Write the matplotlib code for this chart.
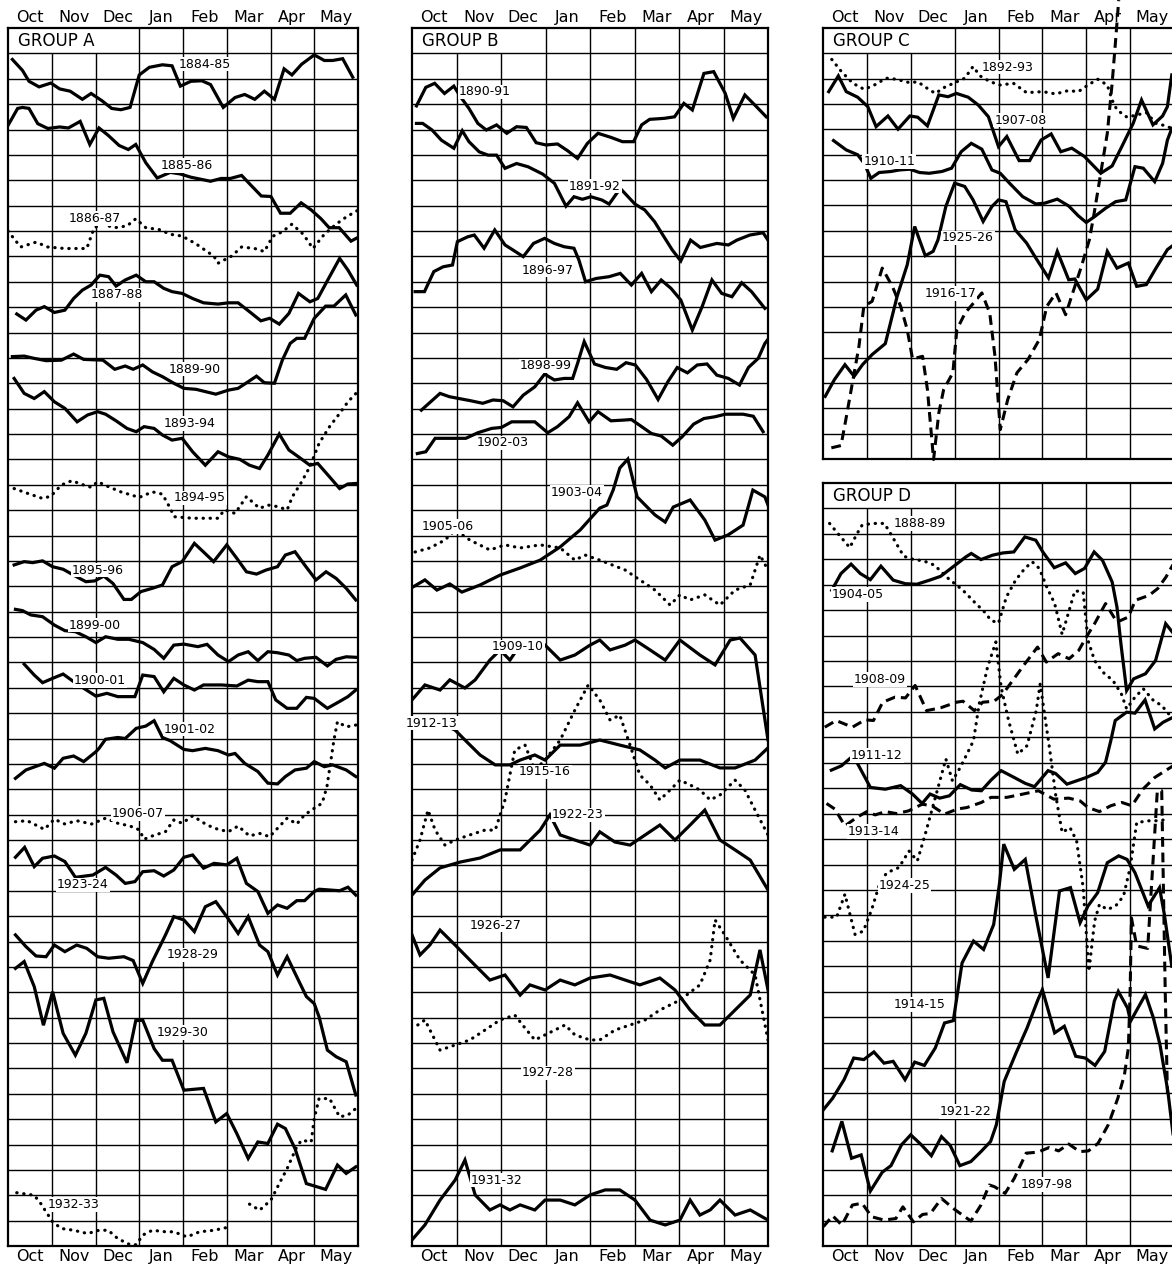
import numpy as np
import matplotlib
matplotlib.use('Agg')
import matplotlib.pyplot as plt

months = ['Oct', 'Nov', 'Dec', 'Jan', 'Feb', 'Mar', 'Apr', 'May']

# ---- values: x = months since 1 Oct, y = grid rows counted from panel top ----
A_1884_85 = [(0.10,1.24),(0.33,1.67),(0.48,2.10),(0.71,2.32),(0.98,2.17),(1.18,2.40),(1.42,2.49),(1.70,2.81),(1.90,2.58),(2.15,2.87),(2.37,3.17),(2.58,3.22),(2.79,3.13),(3.00,1.85),(3.23,1.55),(3.53,1.45),(3.75,1.49),(3.94,2.29),(4.18,2.10),(4.43,2.08),(4.63,2.23),(4.92,3.13),(5.19,2.74),(5.41,2.62),(5.64,2.81),(5.86,2.49),(6.09,2.81),(6.31,1.61),(6.49,1.85),(6.71,1.43),(7.00,1.06),(7.23,1.28),(7.42,1.28),(7.65,1.21),(7.88,1.94)]
A_1885_86 = [(0.00,3.84),(0.22,3.17),(0.33,3.13),(0.48,3.17),(0.68,3.77),(0.91,3.96),(1.18,3.90),(1.38,3.94),(1.65,3.68),(1.87,4.59),(2.08,3.94),(2.29,4.23),(2.54,4.63),(2.75,4.79),(2.92,4.59),(3.15,5.31),(3.41,5.91),(3.71,5.69),(3.93,5.75),(4.18,5.88),(4.63,6.04),(4.87,5.93),(5.08,5.93),(5.34,5.81),(5.56,6.21),(5.79,6.62),(6.01,6.64),(6.23,7.30),(6.45,7.30),(6.70,6.89),(6.93,7.17),(7.15,7.51),(7.34,7.87),(7.57,7.87),(7.84,8.40),(8.00,8.25)]
A_1886_87 = [(0.00,8.00),(0.14,8.31),(0.29,8.63),(0.64,8.44),(0.91,8.63),(1.30,8.69),(1.80,8.69),(1.97,7.87),(2.15,7.73),(2.44,7.87),(2.72,7.80),(2.92,7.52),(3.15,7.87),(3.45,7.94),(3.71,8.13),(3.98,8.20),(4.30,8.51),(4.71,9.00),(4.80,9.27),(5.11,8.99),(5.34,8.63),(5.64,8.69),(5.86,8.81),(6.05,8.21),(6.27,8.03),(6.49,7.73),(6.75,8.13),(6.97,8.69),(7.23,8.13),(7.50,7.73),(7.73,7.45),(8.00,7.18)]
A_1887_88 = [(0.20,11.27),(0.41,11.51),(0.64,11.12),(0.83,10.98),(1.06,11.21),(1.30,11.12),(1.50,10.66),(1.70,10.33),(1.90,10.13),(2.10,9.74),(2.30,9.80),(2.47,10.17),(2.68,9.93),(2.93,9.74),(3.15,10.00),(3.34,10.00),(3.56,10.26),(3.75,10.39),(3.98,10.46),(4.22,10.66),(4.47,10.83),(4.80,10.88),(5.04,10.83),(5.26,10.83),(5.52,11.18),(5.78,11.54),(5.98,11.44),(6.20,11.67),(6.42,11.25),(6.64,10.46),(6.90,10.79),(7.08,10.66),(7.35,9.80),(7.58,9.08),(7.77,9.54),(7.97,10.13)]
A_1889_90 = [(0.10,12.95),(0.37,12.93),(0.60,13.02),(0.87,13.11),(1.22,13.09),(1.50,12.85),(1.73,13.06),(2.17,13.09),(2.44,13.45),(2.68,13.32),(2.86,13.45),(3.08,13.28),(3.30,13.55),(3.53,13.74),(3.79,14.00),(4.02,14.20),(4.30,14.24),(4.75,14.43),(5.04,14.27),(5.26,14.20),(5.49,13.94),(5.68,13.72),(5.86,13.98),(6.09,14.00),(6.27,13.09),(6.45,12.43),(6.60,12.23),(6.78,12.23),(7.00,11.44),(7.26,10.96),(7.45,10.96),(7.72,10.52),(7.95,11.31)]
A_1893_94 = [(0.14,13.81),(0.37,14.40),(0.60,14.60),(0.83,14.33),(1.06,14.73),(1.30,14.99),(1.58,15.52),(1.82,15.25),(2.05,15.12),(2.23,15.22),(2.47,15.48),(2.72,15.78),(2.93,15.91),(3.11,15.71),(3.34,15.78),(3.53,16.04),(3.75,16.24),(3.98,16.17),(4.22,16.70),(4.51,17.23),(4.80,16.70),(5.04,16.90),(5.30,17.00),(5.52,17.23),(5.75,17.36),(5.94,16.83),(6.20,16.00),(6.42,16.63),(6.64,16.90),(6.90,17.23),(7.08,17.16),(7.35,17.69),(7.58,18.15),(7.77,17.97),(7.95,17.95)]
A_1894_95 = [(0.14,18.15),(0.45,18.34),(0.79,18.54),(0.98,18.45),(1.22,18.01),(1.46,17.84),(1.73,18.01),(1.90,18.10),(2.05,17.88),(2.30,18.08),(2.58,18.28),(3.00,18.50),(3.30,18.28),(3.53,18.37),(3.70,18.90),(3.80,19.26),(4.22,19.32),(4.80,19.32),(4.95,18.99),(5.19,19.13),(5.45,18.47),(5.75,18.93),(5.94,18.80),(6.16,18.86),(6.38,18.99),(6.50,18.47),(6.69,17.95),(6.90,17.29),(7.11,16.37),(7.35,15.71),(7.58,15.19),(7.77,14.73),(7.97,14.37)]
A_1895_96 = [(0.14,21.16),(0.37,21.03),(0.56,21.07),(0.79,21.00),(1.02,21.23),(1.26,21.33),(1.54,21.60),(1.78,21.82),(1.98,21.79),(2.19,21.60),(2.40,21.89),(2.65,22.52),(2.82,22.52),(3.04,22.21),(3.30,22.08),(3.53,21.95),(3.75,21.23),(3.98,21.03),(4.26,20.31),(4.50,20.70),(4.70,21.03),(5.00,20.37),(5.23,20.90),(5.45,21.43),(5.68,21.52),(5.90,21.36),(6.16,21.23),(6.34,20.77),(6.56,20.64),(6.78,21.16),(7.04,21.75),(7.27,21.43),(7.50,21.69),(7.73,22.08),(7.95,22.54)]
A_1899_00 = [(0.17,22.91),(0.33,22.96),(0.52,23.13),(0.79,23.20),(1.06,23.53),(1.30,23.75),(1.54,23.79),(1.78,23.99),(2.01,24.22),(2.23,23.99),(2.51,24.09),(2.76,24.09),(3.08,24.22),(3.34,24.49),(3.56,24.84),(3.79,24.32),(4.02,24.28),(4.34,24.38),(4.55,24.29),(4.80,24.71),(5.04,24.97),(5.26,24.71),(5.49,24.58),(5.71,24.93),(5.94,24.58),(6.16,24.62),(6.42,24.71),(6.60,24.93),(6.78,24.84),(7.04,24.80),(7.30,25.14),(7.50,24.88),(7.73,24.78),(7.95,24.80)]
A_1900_01 = [(0.37,25.07),(0.60,25.50),(0.79,25.80),(1.02,25.63),(1.26,25.46),(1.50,25.76),(1.73,26.02),(2.01,26.33),(2.26,26.22),(2.51,26.35),(2.90,26.35),(3.08,25.50),(3.34,25.56),(3.56,26.16),(3.79,25.63),(4.02,25.89),(4.26,26.09),(4.47,25.89),(4.88,25.89),(5.23,25.93),(5.49,25.70),(5.71,25.76),(5.94,25.76),(6.12,26.48),(6.38,26.81),(6.60,26.81),(6.82,26.38),(7.00,26.42),(7.30,26.81),(7.57,26.55),(7.77,26.35),(7.95,26.09)]
A_1901_02 = [(0.17,29.57),(0.41,29.24),(0.83,28.98),(1.06,29.17),(1.26,28.78),(1.50,28.69),(1.73,28.91),(2.01,28.52),(2.08,28.39),(2.23,28.03),(2.51,27.96),(2.68,28.00),(2.93,27.60),(3.15,27.51),(3.34,27.30),(3.53,27.96),(3.71,28.09),(4.02,28.43),(4.22,28.48),(4.51,28.39),(4.80,28.48),(5.04,28.65),(5.19,28.59),(5.41,28.98),(5.71,29.30),(5.94,29.76),(6.16,29.79),(6.34,29.50),(6.56,29.24),(6.82,29.17),(7.00,28.91),(7.23,29.11),(7.42,29.04),(7.73,29.24),(7.95,29.50)]
A_1906_07 = [(0.17,31.28),(0.44,31.24),(0.83,31.58),(1.06,31.18),(1.30,31.37),(1.57,31.24),(1.91,31.37),(2.23,31.14),(2.51,31.34),(2.79,31.45),(3.00,31.60),(3.11,31.97),(3.30,31.84),(3.60,31.67),(3.79,31.21),(3.98,31.34),(4.22,31.05),(4.55,31.41),(4.80,31.58),(5.04,31.67),(5.26,31.45),(5.52,31.84),(5.75,31.74),(5.98,31.87),(6.16,31.54),(6.38,31.14),(6.60,31.37),(6.78,31.01),(7.00,30.75),(7.18,30.55),(7.29,29.90),(7.37,28.98),(7.45,28.06),(7.53,27.34),(7.73,27.54),(7.95,27.47)]
A_1923_24 = [(0.17,32.68),(0.38,32.29),(0.60,33.05),(0.79,32.72),(1.06,32.63),(1.30,32.85),(1.54,33.47),(1.94,33.38),(2.23,33.08),(2.47,33.38),(2.68,33.71),(2.90,33.64),(3.08,33.25),(3.34,33.21),(3.56,33.42),(3.79,33.18),(4.02,32.68),(4.22,32.59),(4.47,33.11),(4.71,32.92),(5.00,32.98),(5.23,32.72),(5.45,33.71),(5.71,34.03),(5.94,34.89),(6.16,34.56),(6.38,34.69),(6.60,34.39),(6.78,34.39),(7.00,34.03),(7.11,33.94),(7.35,33.97),(7.58,34.00),(7.77,33.86),(7.95,34.17)]
A_1928_29 = [(0.17,35.74),(0.41,36.20),(0.64,36.57),(0.87,36.60),(1.06,36.14),(1.30,36.40),(1.57,36.14),(1.80,36.27),(2.05,36.60),(2.30,36.66),(2.65,36.60),(2.86,36.75),(3.08,37.65),(3.30,36.79),(3.60,35.74),(3.79,35.02),(4.02,35.15),(4.26,35.61),(4.51,34.63),(4.75,34.43),(5.00,35.02),(5.26,35.68),(5.49,35.02),(5.75,36.14),(5.94,36.40),(6.16,37.32),(6.38,36.60),(6.60,37.39),(6.82,38.17),(7.00,38.45),(7.11,38.97),(7.30,40.28),(7.50,40.54),(7.73,40.74),(7.95,42.05)]
A_1929_30 = [(0.17,37.06),(0.37,36.79),(0.60,37.78),(0.81,39.30),(1.02,37.98),(1.26,39.62),(1.54,40.48),(1.78,39.62),(2.01,38.30),(2.19,38.24),(2.40,39.56),(2.72,40.78),(2.92,39.12),(3.08,39.10),(3.34,40.22),(3.53,40.68),(3.75,40.68),(4.02,41.86),(4.47,41.79),(4.75,43.11),(5.00,42.78),(5.23,43.57),(5.49,44.55),(5.71,43.90),(5.94,43.96),(6.16,43.20),(6.34,43.37),(6.56,44.16),(6.82,45.54),(7.26,45.77),(7.53,44.81),(7.73,45.14),(7.95,44.88)]
A_1932_33 = [(0.20,45.90),(0.60,46.00),(0.75,46.33),(1.02,47.05),(1.22,47.31),(1.50,47.38),(1.82,47.51),(2.08,47.38),(2.29,47.38),(2.51,47.71),(2.79,47.95),(2.93,47.95),(3.08,47.57),(3.30,47.38),(3.60,47.44),(3.79,47.44),(4.09,47.64),(4.38,47.44),(4.71,47.38),(5.06,47.25),None,(5.52,46.35),(5.75,46.59),(6.01,46.19),(6.20,45.54),(6.38,44.95),(6.60,44.09),(6.71,43.83),(6.93,43.90),(7.00,42.97),(7.11,42.19),(7.35,42.19),(7.58,42.91),(7.77,42.84),(8.00,42.51)]

B_1890_91 = [(0.10,3.07),(0.31,2.34),(0.51,2.18),(0.73,2.58),(0.94,2.29),(1.09,2.71),(1.28,3.17),(1.48,3.76),(1.67,4.02),(1.90,3.82),(2.13,4.15),(2.35,3.89),(2.57,3.92),(2.79,4.52),(3.01,4.61),(3.27,4.57),(3.50,4.84),(3.72,5.14),(3.94,4.55),(4.18,4.15),(4.47,4.31),(4.73,4.48),(4.98,4.48),(5.16,3.82),(5.34,3.60),(5.67,3.56),(5.90,3.50),(6.11,2.97),(6.30,3.23),(6.56,1.79),(6.78,1.72),(7.04,2.58),(7.22,3.56),(7.48,2.64),(7.74,3.10),(7.96,3.50)]
B_1891_92 = [(0.10,3.76),(0.24,3.76),(0.45,4.02),(0.66,4.42),(0.94,4.74),(1.13,4.05),(1.28,4.48),(1.51,4.88),(1.71,5.01),(1.90,5.01),(2.09,5.53),(2.35,5.34),(2.61,5.47),(2.94,5.76),(3.20,6.12),(3.46,7.02),(3.64,6.65),(3.83,6.75),(4.02,6.65),(4.27,6.78),(4.43,6.94),(4.68,6.32),(5.01,6.94),(5.23,7.17),(5.45,7.63),(5.67,8.25),(5.85,8.75),(6.04,9.18),(6.26,8.36),(6.48,8.65),(6.85,8.49),(7.11,8.55),(7.30,8.36),(7.59,8.16),(7.89,8.07),(8.00,8.36)]
B_1896_97 = [(0.07,10.39),(0.28,10.39),(0.49,9.60),(0.70,9.41),(0.91,9.34),(1.02,8.42),(1.25,8.23),(1.40,8.16),(1.62,8.68),(1.86,7.96),(2.09,8.55),(2.27,8.75),(2.50,9.01),(2.73,8.49),(2.98,8.29),(3.20,8.49),(3.42,8.62),(3.64,8.68),(3.75,9.14),(3.90,10.00),(4.14,9.87),(4.43,9.80),(4.68,9.67),(4.93,10.13),(5.16,9.67),(5.38,10.39),(5.60,9.93),(5.82,10.26),(6.04,10.72),(6.30,11.90),(6.52,10.98),(6.74,9.93),(6.96,10.46),(7.19,10.59),(7.41,10.04),(7.63,10.39),(7.93,11.05)]
B_1898_99 = [(0.21,15.06),(0.42,14.73),(0.63,14.40),(0.84,14.53),(1.05,14.60),(1.32,14.69),(1.59,14.79),(1.82,14.66),(2.05,14.69),(2.27,14.93),(2.50,14.47),(2.76,14.14),(2.98,13.64),(3.20,13.87),(3.42,13.81),(3.61,13.81),(3.72,13.22),(3.87,12.36),(4.10,13.24),(4.35,13.38),(4.60,13.45),(4.81,13.19),(5.02,13.28),(5.27,13.85),(5.53,14.64),(5.75,13.94),(5.96,13.38),(6.19,13.59),(6.41,13.28),(6.63,13.24),(6.85,13.68),(7.11,13.81),(7.36,14.07),(7.56,13.38),(7.78,13.02),(7.93,12.43),(8.00,12.27)]
B_1902_03 = [(0.12,16.77),(0.31,16.70),(0.52,16.17),(0.80,16.17),(1.21,16.17),(1.48,15.95),(1.79,15.78),(2.01,15.74),(2.24,15.52),(2.53,15.52),(2.76,15.52),(3.05,15.95),(3.27,15.71),(3.53,15.32),(3.72,14.77),(3.98,15.52),(4.18,15.12),(4.47,15.48),(4.77,15.45),(4.93,15.43),(5.16,15.71),(5.38,15.98),(5.60,16.08),(5.86,16.44),(6.07,16.11),(6.33,15.61),(6.56,15.39),(6.81,15.32),(7.04,15.22),(7.44,15.22),(7.67,15.30),(7.89,15.91)]
B_1903_04 = [(0.02,22.03),(0.29,21.75),(0.56,22.15),(0.85,21.91),(1.12,22.23),(1.53,21.95),(1.98,21.56),(2.43,21.28),(2.88,20.97),(3.33,20.45),(3.78,19.78),(4.22,18.92),(4.38,18.80),(4.52,18.21),(4.67,17.34),(4.85,16.99),(5.06,18.48),(5.24,18.80),(5.46,19.19),(5.69,19.47),(5.87,18.88),(6.25,18.60),(6.58,19.39),(6.81,20.18),(7.10,19.98),(7.44,19.59),(7.66,18.21),(7.93,18.48),(8.00,18.80)]
B_1905_06 = [(0.07,20.65),(0.40,20.49),(0.74,20.18),(0.97,19.78),(1.30,20.18),(1.75,20.57),(2.09,20.37),(2.43,20.49),(2.88,20.37),(3.33,20.49),(3.66,20.97),(3.89,20.77),(4.22,20.97),(4.79,21.36),(5.12,21.75),(5.46,22.15),(5.80,22.74),(6.02,22.34),(6.25,22.54),(6.58,22.34),(6.92,22.74),(7.26,22.15),(7.60,21.95),(7.82,20.77),(8.00,21.36)]
B_1909_10 = [(0.00,26.48),(0.29,25.89),(0.63,26.09),(0.85,25.69),(1.19,26.01),(1.42,25.69),(1.75,24.91),(1.98,24.51),(2.20,24.91),(2.43,24.32),(2.76,24.51),(2.99,24.32),(3.33,24.91),(3.66,24.71),(4.00,24.32),(4.22,24.12),(4.45,24.51),(4.79,24.32),(5.01,24.12),(5.35,24.51),(5.69,24.91),(6.02,24.12),(6.47,24.71),(6.81,25.10),(7.15,24.12),(7.37,24.04),(7.71,24.71),(8.00,28.06)]
B_1912_13 = [(0.00,27.59),(0.29,27.47),(0.63,27.39),(0.97,27.67),(1.19,28.06),(1.53,28.65),(1.87,29.04),(2.20,29.04),(2.43,28.85),(2.76,28.65),(2.99,28.85),(3.33,28.26),(3.78,28.26),(4.22,28.06),(4.67,28.26),(5.12,28.45),(5.46,28.85),(5.69,29.16),(6.02,28.85),(6.47,28.85),(6.92,29.16),(7.26,29.16),(7.71,28.85),(8.00,28.37)]
B_1915_16 = [(0.00,32.79),(0.18,32.00),(0.36,30.82),(0.52,31.61),(0.74,32.20),(0.97,32.00),(1.30,31.80),(1.64,31.61),(1.87,31.61),(2.09,30.42),(2.31,28.45),(2.54,28.26),(2.76,29.24),(2.99,28.85),(3.33,28.06),(3.66,26.88),(3.96,25.89),(4.22,26.48),(4.45,27.27),(4.67,27.08),(4.90,28.26),(5.12,29.44),(5.35,29.83),(5.57,30.42),(5.80,30.03),(6.02,29.64),(6.25,29.83),(6.47,30.03),(6.70,30.42),(6.92,30.23),(7.26,29.64),(7.48,30.03),(7.71,30.82),(8.00,31.80)]
B_1922_23 = [(0.00,34.17),(0.29,33.58),(0.63,33.10),(1.08,32.87),(1.53,32.71),(1.98,32.39),(2.43,32.39),(2.88,31.61),(3.10,31.01),(3.33,31.80),(3.66,32.00),(4.00,32.20),(4.22,31.68),(4.56,32.08),(4.90,32.20),(5.24,31.80),(5.57,31.41),(5.91,32.00),(6.25,31.41),(6.58,30.82),(6.92,32.00),(7.26,32.39),(7.60,32.79),(8.00,33.97)]
B_1926_27 = [(0.00,35.74),(0.18,36.53),(0.40,36.14),(0.63,35.55),(0.97,36.14),(1.30,36.73),(1.75,37.52),(2.09,37.32),(2.43,38.11),(2.65,37.71),(2.99,37.91),(3.33,37.52),(3.66,37.71),(4.00,37.44),(4.45,37.32),(4.79,37.52),(5.12,37.71),(5.57,37.44),(5.91,37.91),(6.25,38.70),(6.58,39.29),(6.92,39.29),(7.26,38.70),(7.60,38.11),(7.82,36.33),(8.00,37.91)]
B_1927_28 = [(0.13,39.29),(0.29,39.09),(0.63,40.28),(0.97,40.08),(1.30,39.88),(1.64,39.49),(1.98,39.09),(2.31,38.90),(2.54,39.41),(2.76,39.88),(2.99,39.68),(3.21,39.49),(3.44,39.29),(3.66,39.68),(4.00,39.88),(4.22,39.88),(4.56,39.49),(4.90,39.29),(5.24,39.09),(5.57,38.70),(6.02,38.31),(6.47,37.71),(6.70,36.73),(6.81,35.15),(7.03,35.74),(7.37,36.73),(7.71,37.32),(8.00,39.88)]
B_1931_32 = [(0.00,47.76),(0.29,47.17),(0.63,46.19),(0.97,45.40),(1.19,44.61),(1.42,45.99),(1.75,46.58),(1.98,46.38),(2.20,46.58),(2.43,46.38),(2.76,46.58),(2.99,46.19),(3.33,46.19),(3.66,46.38),(4.00,45.99),(4.34,45.79),(4.67,45.79),(5.01,46.19),(5.35,46.98),(5.69,47.17),(6.02,46.98),(6.25,46.19),(6.47,46.78),(6.70,46.58),(6.92,46.19),(7.26,46.78),(7.60,46.58),(8.00,46.98)]

C_1892_93 = [(0.20,1.24),(0.42,1.72),(0.68,2.18),(0.94,2.42),(1.17,2.25),(1.44,1.98),(1.67,2.02),(1.98,2.16),(2.16,2.12),(2.34,2.34),(2.56,2.58),(2.77,2.34),(3.00,2.16),(3.23,1.98),(3.42,1.52),(3.58,1.89),(3.81,2.12),(4.04,2.25),(4.34,2.18),(4.64,2.55),(5.01,2.51),(5.30,2.60),(5.59,2.47),(5.82,2.51),(6.04,2.25),(6.26,2.02),(6.48,2.25),(6.59,2.84),(6.70,3.23),(6.93,3.52),(7.15,3.43),(7.37,3.34),(7.59,3.76),(7.81,3.86),(7.95,3.96)]
C_1907_08 = [(0.13,2.51),(0.35,1.89),(0.53,2.51),(0.79,2.73),(1.02,3.10),(1.21,3.89),(1.48,3.47),(1.71,3.99),(1.98,3.47),(2.16,3.52),(2.38,3.86),(2.64,2.64),(2.85,2.71),(3.04,2.58),(3.31,2.73),(3.54,3.04),(3.77,3.50),(4.00,4.68),(4.19,4.28),(4.47,5.23),(4.71,5.23),(4.97,4.42),(5.20,4.18),(5.42,4.88),(5.67,4.74),(5.96,5.07),(6.33,5.73),(6.59,5.44),(6.81,4.68),(7.07,3.76),(7.26,2.84),(7.52,3.82),(7.74,3.47),(7.85,3.10),(7.95,1.85)]
C_1910_11 = [(0.24,4.44),(0.53,4.81),(0.79,5.00),(0.94,5.34),(1.09,5.93),(1.28,5.70),(1.55,5.66),(1.74,5.60),(1.98,5.57),(2.20,5.70),(2.42,5.73),(2.71,5.66),(2.93,5.53),(3.15,4.88),(3.38,4.55),(3.62,4.78),(3.85,5.60),(4.04,5.73),(4.25,6.12),(4.55,6.65),(4.85,6.94),(5.05,6.91),(5.34,6.75),(5.60,7.02),(5.82,7.41),(6.00,7.67),(6.19,7.44),(6.44,7.11),(6.67,6.85),(6.90,6.78),(7.11,5.47),(7.30,5.53),(7.56,6.06),(7.74,5.34),(7.85,4.42),(7.95,3.96)]
C_1925_26 = [(0.05,14.53),(0.26,13.87),(0.50,13.28),(0.71,13.74),(0.90,13.28),(1.12,12.88),(1.42,12.45),(1.69,10.58),(1.92,9.34),(2.09,7.83),(2.33,8.98),(2.51,8.81),(2.62,8.36),(2.80,7.04),(3.00,6.12),(3.23,6.25),(3.42,6.78),(3.65,7.63),(3.85,7.04),(4.00,6.78),(4.17,6.85),(4.38,7.96),(4.64,8.48),(4.85,9.07),(5.14,9.86),(5.34,8.81),(5.60,9.93),(5.74,9.90),(6.00,10.72),(6.26,10.30),(6.48,8.81),(6.70,9.47),(6.96,9.27),(7.15,10.19),(7.37,10.12),(7.59,9.47),(7.85,8.74),(7.95,8.61)]
C_1916_17 = [(0.19,16.56),(0.41,16.47),(0.52,15.45),(0.67,14.00),(0.82,12.55),(0.93,10.98),(1.12,10.78),(1.35,9.47),(1.58,10.19),(1.77,10.98),(1.92,11.90),(2.04,13.05),(2.27,12.95),(2.38,14.26),(2.52,17.02),(2.64,15.18),(2.75,14.26),(2.96,13.60),(3.05,11.90),(3.24,11.24),(3.43,10.85),(3.62,10.45),(3.80,11.24),(3.92,12.95),(4.04,15.84),(4.21,14.66),(4.42,13.60),(4.67,13.08),(4.93,12.29),(5.10,10.98),(5.31,10.45),(5.53,11.31),(5.74,10.19),(5.89,9.40),(6.07,8.36),(6.18,7.31),(6.33,5.73),(6.48,4.15),(6.59,2.18),(6.67,0.47),(6.74,-1.10)]

D_1888_89 = [(0.15,1.59),(0.37,2.05),(0.61,2.54),(0.78,1.98),(0.89,1.66),(1.12,1.59),(1.40,1.59),(1.56,2.05),(1.84,2.88),(2.07,3.01),(2.29,3.06),(2.54,3.23),(2.86,3.76),(3.19,4.22),(3.45,4.68),(3.68,5.07),(3.83,5.40),(4.00,5.51),(4.18,4.48),(4.39,3.82),(4.60,3.36),(4.77,3.10),(4.93,3.36),(5.10,4.09),(5.28,4.74),(5.45,5.95),(5.60,5.07),(5.74,4.24),(5.93,4.28),(6.04,6.19),(6.19,6.98),(6.38,7.44),(6.61,7.77),(6.80,8.29),(6.92,8.88),(7.11,8.42),(7.30,8.09),(7.53,8.55),(7.72,8.75),(7.88,9.08),(8.00,9.30)]
D_1904_05 = [(0.20,4.22),(0.41,3.56),(0.64,3.19),(0.85,3.56),(1.08,3.80),(1.32,3.27),(1.60,3.82),(1.88,3.96),(2.14,3.98),(2.43,3.82),(2.68,3.67),(2.96,3.30),(3.26,2.90),(3.38,2.77),(3.60,3.01),(3.86,2.84),(4.10,2.75),(4.35,2.71),(4.60,2.12),(4.85,2.25),(5.01,2.71),(5.27,3.33),(5.53,3.14),(5.75,3.56),(5.96,3.36),(6.18,2.71),(6.37,3.04),(6.59,3.89),(6.70,4.88),(6.79,6.32),(6.92,8.16),(7.08,7.70),(7.35,7.50),(7.58,6.98),(7.81,5.53),(7.98,5.90)]
D_1908_09 = [(0.04,9.60),(0.30,9.34),(0.67,9.60),(0.96,9.31),(1.15,9.34),(1.36,8.62),(1.64,8.42),(1.88,8.45),(2.10,7.96),(2.36,8.95),(2.68,8.84),(3.04,8.62),(3.19,8.58),(3.45,8.95),(3.64,8.62),(3.90,8.58),(4.09,8.32),(4.35,7.70),(4.60,7.11),(4.89,6.45),(5.09,7.04),(5.36,6.71),(5.61,6.91),(5.83,6.58),(6.00,6.06),(6.19,5.53),(6.44,4.74),(6.70,5.47),(6.96,5.27),(7.12,4.61),(7.43,4.42),(7.63,4.15),(7.82,3.69),(7.98,3.20)]
D_1911_12 = [(0.19,11.29),(0.42,11.12),(0.69,10.72),(1.08,11.97),(1.42,12.04),(1.77,11.90),(2.04,12.23),(2.26,12.60),(2.44,12.23),(2.66,12.39),(2.88,12.30),(3.13,11.86),(3.39,12.07),(3.61,12.10),(3.83,11.68),(4.06,11.31),(4.36,11.58),(4.61,11.81),(4.82,11.94),(5.13,11.31),(5.30,11.42),(5.56,11.84),(6.00,11.58),(6.26,11.38),(6.44,10.98),(6.56,10.13),(6.66,9.34),(6.92,9.01),(7.11,9.05),(7.34,8.53),(7.56,9.67),(7.75,9.41),(7.98,9.21)]
D_1913_14 = [(0.08,12.60),(0.27,12.82),(0.50,13.48),(0.77,13.15),(1.00,12.92),(1.19,13.05),(1.42,12.92),(1.68,13.00),(1.95,12.89),(2.26,12.63),(2.48,12.69),(2.77,13.02),(3.06,12.82),(3.28,12.76),(3.61,12.56),(3.83,12.36),(4.19,12.36),(4.56,12.23),(4.91,12.10),(5.26,12.43),(5.60,12.39),(5.86,12.50),(6.04,12.76),(6.30,12.92),(6.56,12.69),(6.81,12.56),(7.04,12.69),(7.29,12.04),(7.56,11.58),(7.86,11.25),(8.00,11.10)]
D_1924_25 = [(0.04,17.07),(0.31,17.07),(0.50,16.17),(0.73,17.75),(0.92,17.62),(1.11,16.77),(1.31,15.65),(1.46,15.32),(1.73,15.12),(1.96,14.47),(2.15,14.86),(2.33,13.81),(2.55,12.43),(2.80,10.85),(2.95,11.71),(3.13,11.18),(3.28,10.66),(3.43,10.13),(3.56,8.69),(3.75,7.24),(3.94,6.25),(4.06,8.03),(4.23,9.34),(4.44,10.66),(4.65,10.33),(4.86,8.95),(4.95,7.90),(5.17,10.52),(5.30,12.23),(5.45,13.74),(5.63,13.55),(5.78,14.07),(5.93,15.91),(6.06,19.20),(6.19,17.23),(6.30,16.57),(6.48,16.77),(6.67,16.63),(6.85,16.24),(7.00,15.12),(7.15,13.35),(7.44,13.28),(7.70,13.28),(7.81,13.22)]
D_1914_15 = [(0.01,24.64),(0.22,24.19),(0.48,23.46),(0.70,22.61),(0.93,22.67),(1.16,22.37),(1.39,22.81),(1.60,22.74),(1.87,23.46),(2.09,22.77),(2.31,22.90),(2.56,22.21),(2.77,21.23),(2.97,21.14),(3.17,18.87),(3.43,18.01),(3.66,18.34),(3.89,17.36),(4.02,15.78),(4.12,14.20),(4.36,15.19),(4.61,14.80),(4.86,17.10),(5.13,19.46),(5.39,16.04),(5.64,15.91),(5.86,17.29),(6.04,16.63),(6.26,16.11),(6.48,14.93),(6.74,14.66),(6.93,14.80),(7.11,15.32),(7.41,16.63),(7.67,15.91),(7.78,16.96),(7.95,19.00)]
D_1921_22 = [(0.21,26.26),(0.43,25.10),(0.65,26.55),(0.87,26.42),(1.08,27.84),(1.35,27.10),(1.55,26.84),(1.79,26.02),(2.00,25.63),(2.24,26.02),(2.47,26.45),(2.70,25.70),(2.90,26.05),(3.12,26.84),(3.37,26.68),(3.60,26.29),(3.82,25.89),(3.95,25.24),(4.13,23.53),(4.40,22.41),(4.65,21.43),(4.90,20.31),(5.00,19.92),(5.28,21.62),(5.50,21.36),(5.76,22.54),(5.98,22.61),(6.20,22.90),(6.42,22.35),(6.64,20.37),(6.73,19.99),(6.94,20.64),(7.01,21.16),(7.35,20.11),(7.53,21.03),(7.68,22.08),(7.86,23.92),(7.98,25.63)]
D_1897_98 = [(0.01,29.24),(0.22,28.81),(0.43,29.18),(0.67,28.39),(0.89,28.32),(1.11,28.85),(1.39,28.98),(1.66,28.92),(1.82,28.46),(2.06,29.05),(2.27,28.76),(2.45,28.72),(2.70,28.13),(2.99,28.55),(3.37,29.02),(3.60,28.39),(3.79,27.60),(3.91,27.67),(4.15,27.93),(4.36,27.34),(4.63,26.35),(4.90,26.31),(5.15,26.13),(5.37,26.26),(5.60,25.99),(5.85,26.29),(6.05,26.26),(6.27,25.96),(6.50,25.24),(6.72,24.19),(6.87,23.27),(6.96,22.21),(7.00,20.00),(7.03,17.10),(7.15,18.20),(7.40,18.30),(7.62,12.10),(7.72,12.10),(7.80,20.00),(7.85,24.00)]

# ---- table: (label, series, style, label x, label y) ----
GROUP_A = [
    ('1884-85', A_1884_85, 'solid', 4.50, 1.42), ('1885-86', A_1885_86, 'solid', 4.09, 5.43),
    ('1886-87', A_1886_87, 'dot', 1.99, 7.50), ('1887-88', A_1887_88, 'solid', 2.49, 10.52),
    ('1889-90', A_1889_90, 'solid', 4.27, 13.44), ('1893-94', A_1893_94, 'solid', 4.16, 15.60),
    ('1894-95', A_1894_95, 'dot', 4.39, 18.52), ('1895-96', A_1895_96, 'solid', 2.06, 21.36),
    ('1899-00', A_1899_00, 'solid', 1.99, 23.53), ('1900-01', A_1900_01, 'solid', 2.10, 25.70),
    ('1901-02', A_1901_02, 'solid', 4.16, 27.63), ('1906-07', A_1906_07, 'dot', 2.97, 30.97),
    ('1923-24', A_1923_24, 'solid', 1.71, 33.77), ('1928-29', A_1928_29, 'solid', 4.23, 36.53),
    ('1929-30', A_1929_30, 'solid', 3.98, 39.60), ('1932-33', A_1932_33, 'dot', 1.49, 46.35),
]
GROUP_B = [
    ('1890-91', B_1890_91, 'solid', 1.64, 2.52), ('1891-92', B_1891_92, 'solid', 4.11, 6.23),
    ('1896-97', B_1896_97, 'solid', 3.06, 9.54), ('1898-99', B_1898_99, 'solid', 3.01, 13.32),
    ('1902-03', B_1902_03, 'solid', 2.04, 16.35), ('1903-04', B_1903_04, 'solid', 3.71, 18.29),
    ('1905-06', B_1905_06, 'dot', 0.81, 19.66), ('1909-10', B_1909_10, 'solid', 2.38, 24.39),
    ('1912-13', B_1912_13, 'solid', 0.45, 27.39), ('1915-16', B_1915_16, 'dot', 2.99, 29.32),
    ('1922-23', B_1922_23, 'solid', 3.73, 31.01), ('1926-27', B_1926_27, 'solid', 1.87, 35.35),
    ('1927-28', B_1927_28, 'dot', 3.06, 41.18), ('1931-32', B_1931_32, 'solid', 1.91, 45.40),
]
GROUP_C = [
    ('1892-93', C_1892_93, 'dot', 4.20, 1.54), ('1907-08', C_1907_08, 'solid', 4.50, 3.63),
    ('1910-11', C_1910_11, 'solid', 1.51, 5.28), ('1925-26', C_1925_26, 'solid', 3.30, 8.28),
    ('1916-17', C_1916_17, 'dash', 2.90, 10.48),
]
GROUP_D = [
    ('1888-89', D_1888_89, 'dot', 2.20, 1.58), ('1904-05', D_1904_05, 'solid', 0.80, 4.37),
    ('1908-09', D_1908_09, 'dash', 1.30, 7.72), ('1911-12', D_1911_12, 'solid', 1.23, 10.72),
    ('1913-14', D_1913_14, 'dash', 1.16, 13.71), ('1924-25', D_1924_25, 'dot', 1.86, 15.84),
    ('1914-15', D_1914_15, 'solid', 2.20, 20.49), ('1921-22', D_1921_22, 'solid', 3.25, 24.71),
    ('1897-98', D_1897_98, 'dash', 5.10, 27.59),
]

STYLES = {
    'solid': dict(linestyle='-', linewidth=2.3, solid_joinstyle='miter'),
    'dot': dict(linestyle=(0, (0.1, 2.1)), linewidth=2.3, dash_capstyle='round'),
    'dash': dict(linestyle=(0, (3.2, 1.9)), linewidth=2.2, dash_capstyle='butt'),
}

W, H = 1172, 1268
fig = plt.figure(figsize=(W / 100, H / 100), dpi=100)
fig.patch.set_facecolor('white')


def make_panel(l, t, r, b, nrows, title, series, top_labels, bottom_labels):
    ax = fig.add_axes([l / W, 1 - b / H, (r - l) / W, (b - t) / H])
    ax.set_xlim(0, 8)
    ax.set_ylim(nrows, 0)
    for k in range(1, nrows):
        ax.axhline(k, color='black', linewidth=1.0, zorder=1)
    for m in range(1, 8):
        ax.vlines(m, 1 if m < 3 else 0, nrows, color='black', linewidth=1.0, zorder=1)
    for s in ax.spines.values():
        s.set_linewidth(1.6)
    ax.set_yticks([])
    ax.set_xticks(np.arange(8) + 0.5)
    ax.set_xticklabels(months)
    ax.tick_params(axis='x', length=0, top=False, bottom=False,
                   labeltop=top_labels, labelbottom=bottom_labels,
                   pad=2.5, labelsize=11.5)
    ax.text(0.22, 0.5, title, fontsize=12, va='center', ha='left', zorder=5)
    for name, pts, style, lx, ly in series:
        xs = [p[0] if p is not None else np.nan for p in pts]
        ys = [p[1] if p is not None else np.nan for p in pts]
        ax.plot(xs, ys, color='black', zorder=3, clip_on=(name != '1916-17'), **STYLES[style])
        ax.text(lx, ly, name, fontsize=9, ha='center', va='center', zorder=6,
                bbox=dict(facecolor='white', edgecolor='none', pad=0.6))
    return ax


make_panel(8, 28, 358, 1246, 48, 'GROUP A', GROUP_A, True, True)
make_panel(412, 28, 768, 1246, 48, 'GROUP B', GROUP_B, True, True)
make_panel(823, 28, 1174, 459, 17, 'GROUP C', GROUP_C, True, False)
make_panel(823, 483, 1174, 1246, 30, 'GROUP D', GROUP_D, False, True)

fig.savefig('out.png', dpi=100, facecolor='white')
